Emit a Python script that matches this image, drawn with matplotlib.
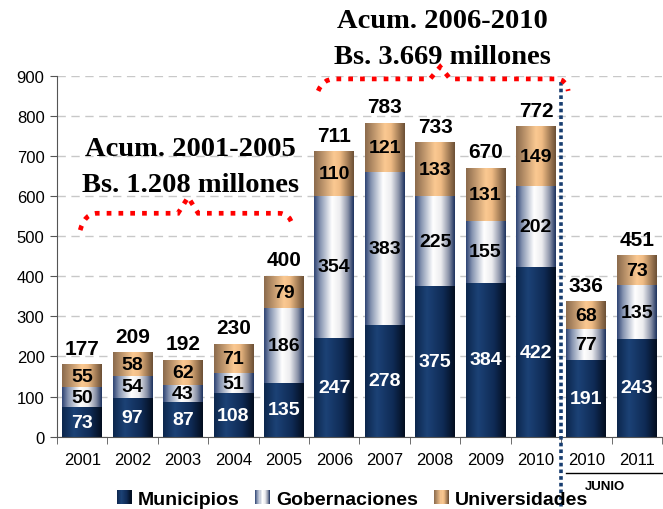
import numpy as np
import matplotlib
matplotlib.use('Agg')
import matplotlib.pyplot as plt
from matplotlib.colors import LinearSegmentedColormap
from matplotlib.path import Path
from matplotlib.patches import PathPatch, Rectangle
from matplotlib.legend_handler import HandlerBase

categories = ['2001', '2002', '2003', '2004', '2005', '2006', '2007', '2008',
              '2009', '2010', '2010', '2011']
municipios = [73, 97, 87, 108, 135, 247, 278, 375, 384, 422, 191, 243]
gobernaciones = [50, 54, 43, 51, 186, 354, 383, 225, 155, 202, 77, 135]
universidades = [55, 58, 62, 71, 79, 110, 121, 133, 131, 149, 68, 73]
totals = [177, 209, 192, 230, 400, 711, 783, 733, 670, 772, 336, 451]
series_names = ['Municipios', 'Gobernaciones', 'Universidades']

plt.rcParams['font.family'] = ['Liberation Sans', 'DejaVu Sans']

cm_mun = LinearSegmentedColormap.from_list('mun', [(0, '#0c264c'), (0.3, '#1c4276'), (0.7, '#0f2b56'), (1, '#030d1e')])
cm_gob = LinearSegmentedColormap.from_list('gob', [(0, '#2c4272'), (0.15, '#8593b0'), (0.45, '#ffffff'),
                                                   (0.65, '#ececef'), (0.85, '#8a92a8'), (1, '#1a2f5c')])
cm_uni = LinearSegmentedColormap.from_list('uni', [(0, '#8a6a4c'), (0.5, '#fbc992'), (0.65, '#f0bc85'), (1, '#6a4e34')])
cmaps = [cm_mun, cm_gob, cm_uni]
mids = ['#17355f', '#c9ced9', '#d9a878']

fig = plt.figure(figsize=(6.63, 5.10), dpi=100)
W, H = 663, 510
ax = fig.add_axes([57 / W, 1 - 437.7 / H, (662 - 57) / W, 361 / H])

x = np.arange(len(categories))
width = 0.79
grad = np.linspace(0, 1, 256).reshape(1, -1)
bottom = np.zeros(len(categories))
for vals, cmap, mid, tc in zip([municipios, gobernaciones, universidades], cmaps, mids,
                              ['white', 'black', 'black']):
    bars = ax.bar(x, vals, width, bottom=bottom, color=mid, zorder=2)
    for rect, v in zip(bars, vals):
        x0, y0 = rect.get_x(), rect.get_y()
        ax.imshow(grad, cmap=cmap, extent=[x0, x0 + rect.get_width(), y0, y0 + rect.get_height()],
                  aspect='auto', interpolation='bicubic', zorder=2.5)
        ax.text(x0 + rect.get_width() / 2, y0 + rect.get_height() / 2, str(v), ha='center',
                va='center', color=tc, fontsize=14, fontweight='bold', zorder=4)
    bottom = bottom + np.array(vals)

for xi, (b, t) in enumerate(zip(bottom, totals)):
    ax.annotate(str(t), (xi, b), xytext=(0, 5), textcoords='offset points', ha='center',
                va='bottom', fontsize=15, fontweight='bold', zorder=4)

ax.set_xlim(-0.5, len(categories) - 0.5)
ax.set_ylim(0, 900)
ax.set_yticks(np.arange(0, 901, 100))
ax.yaxis.grid(True, color='#c8c8c8', linestyle=(0, (6, 4)), linewidth=1)
ax.set_axisbelow(True)
ax.set_xticks(x)
ax.set_xticklabels(categories, fontsize=12)
ax.set_xticks(np.arange(-0.5, len(categories), 1), minor=True)
ax.tick_params(axis='x', which='major', length=0, pad=11)
ax.tick_params(axis='x', which='minor', length=5, direction='out', color='#555555')
ax.tick_params(axis='y', length=5, direction='out', color='#555555', labelsize=12, pad=4)
for s in ['top', 'right']:
    ax.spines[s].set_visible(False)
ax.spines['left'].set_color('#555555')
ax.spines['bottom'].set_color('#555555')

# separator line
ax.plot([9.5, 9.5], [884, -182], color='#173d70', linewidth=2.6, linestyle=(0, (1, 0.85)),
        clip_on=False, zorder=5)
ax.plot([9.6, 11.5], [-90, -90], color='black', linewidth=1, clip_on=False)
ax.text(10.37, -123, 'JUNIO', ha='center', va='center', fontsize=9.5, fontweight='bold')

# braces
def brace(pts):
    codes = [Path.MOVETO, Path.CURVE3, Path.CURVE3, Path.LINETO, Path.LINETO, Path.LINETO,
             Path.LINETO, Path.CURVE3, Path.CURVE3]
    p = PathPatch(Path(pts, codes), fill=False, edgecolor='#ff0000', linewidth=3.4,
                  linestyle=(0, (1, 1.5)), clip_on=False, zorder=5)
    ax.add_patch(p)

brace([(-0.04, 515), (0.05, 557), (0.3, 557), (1.9, 557), (2.1, 597), (2.3, 557),
       (3.9, 557), (4.12, 557), (4.18, 525)])
brace([(4.68, 862), (4.78, 892), (5.0, 892), (6.9, 892), (7.1, 922), (7.3, 892),
       (9.4, 892), (9.6, 892), (9.64, 862)])

serif = ['Liberation Serif', 'DejaVu Serif']
fig.text(442 / W, 1 - 22 / H, 'Acum. 2006-2010', ha='center', va='center', family=serif,
         fontweight='bold', fontsize=20.5)
fig.text(442 / W, 1 - 57 / H, 'Bs. 3.669 millones', ha='center', va='center', family=serif,
         fontweight='bold', fontsize=20.5)
fig.text(190 / W, 1 - 150 / H, 'Acum. 2001-2005', ha='center', va='center', family=serif,
         fontweight='bold', fontsize=20.5)
fig.text(191 / W, 1 - 186 / H, 'Bs. 1.208 millones', ha='center', va='center', family=serif,
         fontweight='bold', fontsize=20.5)


class GradHandler(HandlerBase):
    def __init__(self, cmap):
        super().__init__()
        self.cmap = cmap

    def create_artists(self, legend, orig_handle, xdescent, ydescent, width, height,
                       fontsize, trans):
        n = 14
        size = height * 1.1
        x0 = -xdescent + (width - size)
        y0 = -ydescent + (height - size) / 2
        arts = []
        for i in range(n):
            arts.append(Rectangle((x0 + i * size / n, y0), size / n + 0.2, size,
                                  facecolor=self.cmap((i + 0.5) / n), edgecolor='none',
                                  transform=trans))
        return arts


handles = [Rectangle((0, 0), 1, 1) for _ in series_names]
fig.legend(handles, series_names, loc='center', bbox_to_anchor=(352 / W, 1 - 500 / H), ncol=3,
           frameon=False, handlelength=0.8, handletextpad=0.3, columnspacing=0.8,
           prop={'weight': 'bold', 'size': 14},
           handler_map={h: GradHandler(c) for h, c in zip(handles, cmaps)})

fig.savefig('out.png', dpi=100)
